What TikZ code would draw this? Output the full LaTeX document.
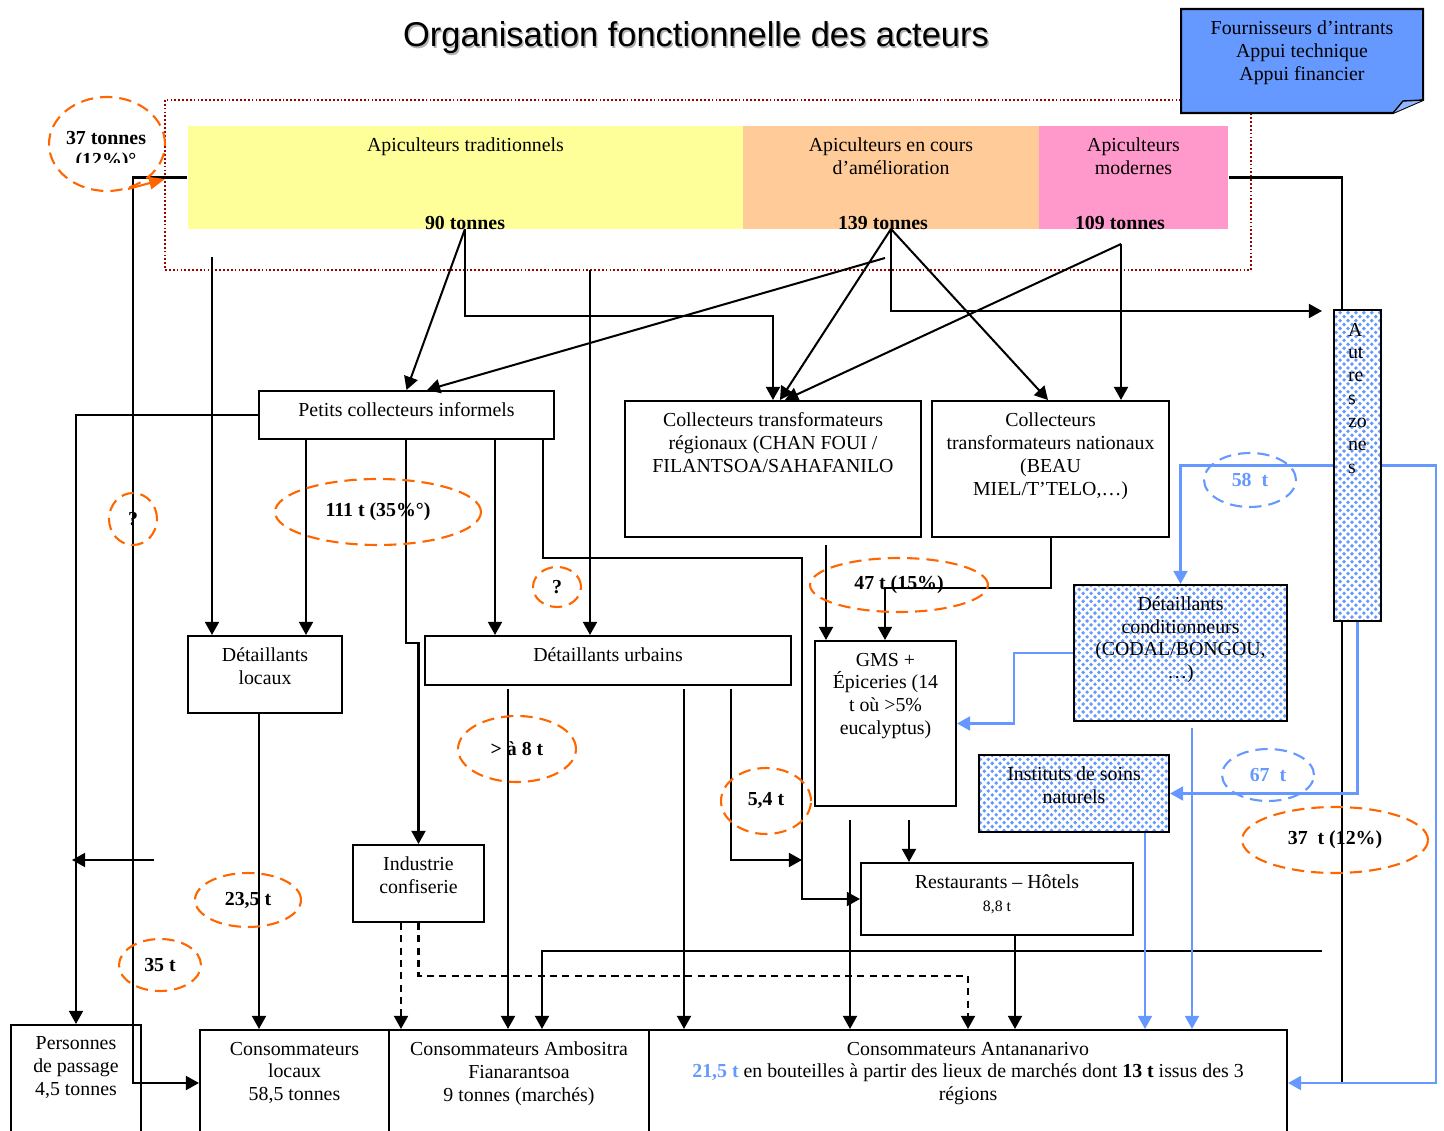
\documentclass[tikz,border=0pt]{standalone}
\usepackage{fontspec}
\usepackage{tikz}
\usetikzlibrary{arrows.meta,shapes.geometric,patterns,positioning}
\setmainfont{Liberation Serif}
\newfontfamily\titrefont{Liberation Sans}
\definecolor{jaune}{HTML}{FFFF99}
\definecolor{saumon}{HTML}{FFCC99}
\definecolor{rose}{HTML}{FF99CC}
\definecolor{bleu}{HTML}{6699FF}
\definecolor{orangeL}{HTML}{FF6600}
\definecolor{rougeF}{HTML}{990000}
\pgfdeclarepatternformonly{gros points}{\pgfqpoint{-1.5pt}{-1.5pt}}{\pgfqpoint{4.5pt}{4.5pt}}{\pgfqpoint{4.5pt}{4.5pt}}{%
	\pgfpathcircle{\pgfqpoint{0pt}{0pt}}{1.1pt}%
	\pgfpathcircle{\pgfqpoint{2.25pt}{2.25pt}}{1.1pt}%
	\pgfusepath{fill}}

\begin{document}
\begin{tikzpicture}[x=0.02cm, y=-0.02cm, line width=1.15pt, >={Triangle[length=7.5pt,width=8pt]},
	texte/.style = {font=\fontsize{11.3}{13}\selectfont, align=center, inner sep=0pt},
	nombre/.style = {texte, font=\bfseries\fontsize{11.3}{13}\selectfont},
	boite/.style 2 args = {shape=rectangle, draw, fill=white, inner sep=0pt, minimum width=#1*0.02cm, minimum height=#2*0.02cm},
	bande/.style 2 args = {shape=rectangle, inner sep=0pt, minimum width=#1*0.02cm, minimum height=#2*0.02cm},
	motif/.style = {preaction={fill=white}, pattern=gros points, pattern color=bleu},
	estim/.style 2 args = {shape=ellipse, draw=orangeL, line width=1.2pt, dash pattern=on 7pt off 4pt, inner sep=0pt, minimum width=#1*0.04cm, minimum height=#2*0.04cm, font=\bfseries\fontsize{11.3}{13}\selectfont},
	estimb/.style 2 args = {estim={#1}{#2}, draw=bleu, text=bleu},
	bl/.style = {draw=bleu, line width=1.3pt},
	tiret/.style = {dash pattern=on 4pt off 3pt}]
	\useasboundingbox (0,0) rectangle (1444,1131);
	\clip (0,0) rectangle (1444,1131);

	% titre
	\node[font=\titrefont\fontsize{19.6}{24}\selectfont, text=black!30] (titre-o) at (697.5,39.5) {Organisation fonctionnelle des acteurs};
	\node[font=\titrefont\fontsize{19.6}{24}\selectfont] (titre) at (696,38) {Organisation fonctionnelle des acteurs};

	% producteurs
	\draw[rougeF, dash pattern=on 1pt off 1.2pt] (165,100) rectangle (1251,270);
	\node[bande={555}{103}, fill=jaune] (ptrad) at (465.5,177.5) {};
	\node[bande={296}{103}, fill=saumon] (pamel) at (891,177.5) {};
	\node[bande={189}{103}, fill=rose] (pmod) at (1133.5,177.5) {};
	\node[texte, below=6.5pt of ptrad.north] (ptrad-t) {Apiculteurs traditionnels};
	\node[texte, below=6.5pt of pamel.north] (pamel-t) {Apiculteurs en cours\\d’amélioration};
	\node[texte, below=6.5pt of pmod.north] (pmod-t) {Apiculteurs\\modernes};
	\node[nombre, anchor=base] (ptrad-n) at (465,230) {90 tonnes};
	\node[nombre, anchor=base] (pamel-n) at (883,230) {139 tonnes};
	\node[nombre, anchor=base] (pmod-n) at (1120,230) {109 tonnes};

	% fournisseurs
	\draw[fill=bleu] (1181,9) -- (1423,9) -- (1423,100) -- (1393,113) -- (1181,113) -- cycle;
	\draw[fill=bleu!70, line width=0.8pt] (1393,113) -- (1403,101) -- (1423,100);
	\node[texte] (fourn) at (1302,53) {Fournisseurs d’intrants\\Appui technique\\Appui financier};

	% acteurs
	\node[boite={295}{48}] (pcoll) at (406.5,415) {};
	\node[boite={296}{136}] (creg) at (773,469) {};
	\node[boite={237}{136}] (cnat) at (1050.5,469) {};
	\node[boite={154}{77}] (dloc) at (265,674.5) {};
	\node[boite={366}{49}] (durb) at (608,660.5) {};
	\node[boite={141}{165}] (gms) at (885.5,723.5) {};
	\node[boite={213}{136}, motif] (dcond) at (1180.5,653) {};
	\node[boite={190}{77}, motif] (inst) at (1074,793.5) {};
	\node[boite={272}{72}] (rest) at (997,899) {};
	\node[boite={131}{77}] (ind) at (418.5,883.5) {};
	\node[boite={47}{311}, motif] (autres) at (1357.5,465.5) {};
	\node[boite={130}{111}, fill=none] (pers) at (76,1080.5) {};
	\node[boite={189}{106}] (cloc) at (294.5,1083) {};
	\node[boite={260}{106}] (camb) at (519,1083) {};
	\node[boite={638}{106}] (ctana) at (968,1083) {};

	\node[texte, below=6.8pt of pcoll.north] (pcoll-t) {Petits collecteurs informels};
	\node[texte, below=6.8pt of creg.north] (creg-t) {Collecteurs transformateurs\\régionaux (CHAN FOUI /\\FILANTSOA/SAHAFANILO};
	\node[texte, below=6.8pt of cnat.north] (cnat-t) {Collecteurs\\transformateurs nationaux\\(BEAU\\MIEL/T’TELO,…)};
	\node[texte, below=6.8pt of dloc.north] (dloc-t) {Détaillants\\locaux};
	\node[texte, below=6.8pt of durb.north] (durb-t) {Détaillants urbains};
	\node[texte, below=6.8pt of gms.north] (gms-t) {GMS +\\Épiceries (14\\t où >5\%\\eucalyptus)};
	\node[texte, below=6.5pt of dcond.north] (dcond-t) {Détaillants\\conditionneurs\\(CODAL/BONGOU,\\…)};
	\node[texte, below=6.8pt of inst.north] (inst-t) {Instituts de soins\\naturels};
	\node[texte, below=6.8pt of rest.north] (rest-t) {Restaurants – Hôtels\\{\fontsize{9}{11}\selectfont 8,8 t}};
	\node[texte, below=6.8pt of ind.north] (ind-t) {Industrie\\confiserie};
	\node[texte, align=left, anchor=north west] (autres-t) at (1347,322) {A\\ut\\re\\s\\zo\\ne\\s};
	\node[texte, below=6.8pt of pers.north] (pers-t) {Personnes\\de passage\\4,5 tonnes};
	\node[texte, below=6.8pt of cloc.north] (cloc-t) {Consommateurs\\locaux\\58,5 tonnes};
	\node[texte, below=6.8pt of camb.north] (camb-t) {Consommateurs Ambositra\\Fianarantsoa\\9 tonnes (marchés)};
	\node[texte, below=6.8pt of ctana.north] (ctana-t) {Consommateurs Antananarivo\\{\color{bleu}\bfseries 21,5 t} en bouteilles à partir des lieux de marchés dont \textbf{13 t} issus des 3\\régions};

	% points de depart
	\coordinate (t90) at (465,229);
	\coordinate (t139) at (891,229);
	\coordinate (t139b) at (885,258);
	\coordinate (t109) at (1121,244);
	\coordinate (az) at (1322,311);
	\coordinate (s1) at (212,257);
	\coordinate (s2) at (590,270);
	\coordinate (fl1) at (154,860);
	\coordinate (fl2) at (72,860);
	\coordinate (du1) at (508,689);
	\coordinate (du2) at (684,689);
	\coordinate (du3) at (731,689);
	\coordinate (j1) at (802,860);
	\coordinate (cr1) at (826,545);
	\coordinate (g1) at (850,820);
	\coordinate (g2) at (909,820);
	\coordinate (h1) at (1322,951);
	\coordinate (dc1) at (1192,728);

	% flux des producteurs
	\draw[->] (t90) -- (pcoll.north);
	\draw[->] (t90) |- (creg.north |- 0,316) -- (creg.north);
	\draw[->] (t139) -- (creg.north -| 780,0);
	\draw[->] (t139) -- (cnat.north -| 1048,0);
	\draw[->] (t139) |- (az);
	\draw[->] (t139b) -- (pcoll.north -| 427,0);
	\draw[->] (t109) -- (cnat.north -| 1121,0);
	\draw[->] (t109) -- (creg.north -| 785,0);
	\draw[->] (s1) -- (s1 |- dloc.north);
	\draw[->] (s2) -- (s2 |- durb.north);
	\draw (pmod.east) -| (autres.north -| 1342,0);
	\draw (autres.south -| 1342,0) -- (ctana.east -| 1342,0);

	% flux des collecteurs
	\draw[->] (pcoll.west) -| (pers.north);
	\draw[->] (pcoll.south -| 306,0) -- (dloc.north -| 306,0);
	\draw[->] (pcoll.south -| 406,0) -- (406,643) -| (ind.north);
	\draw[->] (pcoll.south -| 495,0) -- (durb.north -| 495,0);
	\draw[->] (pcoll.south -| 543,0) |- (802,558) |- (rest.west);
	\draw[->] (cr1) -- (cr1 |- gms.north);
	\draw[->] (cnat.south) |- (885,588) -- (gms.north -| 885,0);

	% flux des detaillants
	\draw[->] (dloc.south -| 259,0) -- (cloc.north -| 259,0);
	\draw[->] (fl1) -- (fl2);
	\draw[->] (du1) -- (du1 |- camb.north);
	\draw[->] (du2) -- (du2 |- ctana.north);
	\draw[->] (du3) |- (j1);
	\draw[->] (g1) -- (g1 |- ctana.north);
	\draw[->] (g2) -- (g2 |- rest.north);
	\draw[->] (rest.south -| 1015,0) -- (ctana.north -| 1015,0);
	\draw[->] (h1) -| (camb.north -| 542,0);
	\draw[->, tiret] (ind.south -| 401,0) -- (camb.north -| 401,0);
	\draw[->, tiret] (ind.south) |- (ctana.north |- 0,976) -- (ctana.north);

	% flux autres zones
	\draw[bl, ->] (autres.west) -| (dcond.north);
	\draw[bl, ->] (autres.east) -| (1436,1083) -- (ctana.east);
	\draw[bl, ->] (autres.south) |- (inst.east);
	\draw[bl, ->] (dcond.west) -- ++(-59,0) |- (gms.east);
	\draw[bl, ->] (dc1) -- (dc1 |- ctana.north);
	\draw[bl, ->] (inst.south -| 1145,0) -- (ctana.north -| 1145,0);

	\draw[->] (ptrad.west) -| (133,1083) -- (cloc.west);

	% estimations
	\node[estim={58}{47}] (e37a) at (107,144) {};
	\coordinate (e37a-f) at (165,179);
	\draw[orangeL, line width=1.2pt, -{Triangle[length=9pt,width=7pt]}] (e37a.-65) -- (e37a-f);
	\begin{scope}
		\clip (50,120) rectangle (165,163);
		\node[nombre] (e37a-t) at (106,151) {37 tonnes\\(12\%)°};
	\end{scope}
	\node[estim={103}{33}] (e111) at (378,512) {111 t (35\%°)};
	\node[estim={24}{26}] (eq1) at (133,519) {?};
	\node[estim={24}{20}] (eq2) at (557,587) {?};
	\node[estim={59}{33}] (e8) at (517,749) {> à 8 t};
	\node[estim={53}{27}] (e235) at (248,900) {23,5 t};
	\node[estim={41}{26}] (e35) at (160,965) {35 t};
	\node[estim={45}{33}] (e54) at (766,801) {5,4 t};
	\node[estim={89}{27}] (e47) at (899,585) {47 t (15\%)};
	\node[estim={93}{33}] (e37b) at (1335,840) {37\ \ t (12\%)};
	\node[estimb={46}{27}] (e58) at (1250,480) {58\ \ t};
	\node[estimb={46}{26}] (e67) at (1268,775) {67\ \ t};
\end{tikzpicture}
\end{document}
